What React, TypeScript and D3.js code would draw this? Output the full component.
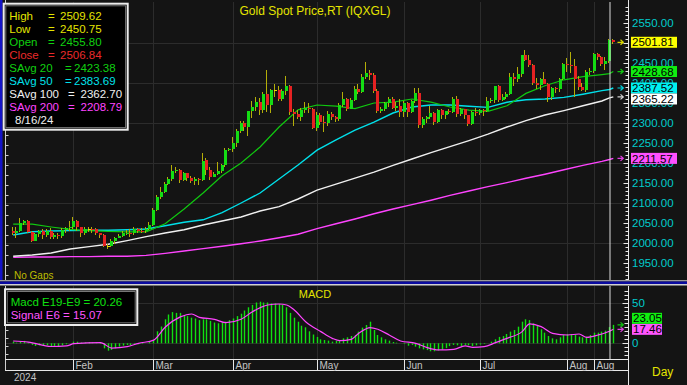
import * as d3 from 'd3';

// ---- values ----
const firstDay = '2024-01-10';
const lastDay = '2024-08-19';
const cursorDay = '2024-08-16';

const open = [
  2030, 2024, 2029, 2049, 2055, 2028, 2006, 2023, 2029, 2021,
  2029, 2014, 2020, 2018, 2032, 2037, 2039, 2054, 2039, 2025,
  2035, 2035, 2034, 2024, 2020, 1992, 1992, 2004, 2013, 2017,
  2025, 2026, 2024, 2035, 2031, 2030, 2034, 2044, 2083, 2114,
  2128, 2148, 2160, 2179, 2182, 2158, 2174, 2162, 2155, 2160,
  2157, 2207, 2183, 2166, 2172, 2179, 2194, 2233, 2235, 2251,
  2281, 2300, 2290, 2329, 2339, 2352, 2333, 2372, 2344, 2383,
  2383, 2361, 2379, 2392, 2327, 2322, 2316, 2332, 2337, 2335,
  2287, 2320, 2303, 2301, 2323, 2314, 2309, 2346, 2360, 2336,
  2358, 2386, 2377, 2415, 2425, 2421, 2379, 2329, 2334, 2350,
  2361, 2338, 2343, 2327, 2350, 2327, 2355, 2375, 2294, 2311,
  2316, 2324, 2303, 2333, 2319, 2329, 2328, 2360, 2322, 2334,
  2319, 2298, 2327, 2326, 2332, 2330, 2356, 2357, 2392, 2358,
  2364, 2372, 2415, 2411, 2422, 2469, 2458, 2445, 2400, 2396,
  2409, 2398, 2364, 2387, 2384, 2410, 2448, 2446, 2443, 2410,
  2390, 2383, 2427, 2431, 2472, 2465, 2447, 2455.8, 2506.84,
];
const high = [
  2040, 2040, 2063, 2058, 2057, 2031, 2026, 2032, 2034, 2036,
  2037, 2025, 2025, 2037, 2040, 2055, 2065, 2057, 2040, 2040,
  2039, 2041, 2037, 2025, 2022, 1998, 2010, 2016, 2022, 2031,
  2032, 2035, 2041, 2038, 2037, 2039, 2052, 2088, 2120, 2141,
  2152, 2165, 2195, 2189, 2185, 2178, 2176, 2168, 2165, 2163,
  2224, 2213, 2190, 2178, 2203, 2197, 2237, 2238, 2265, 2285,
  2305, 2305, 2330, 2354, 2365, 2363, 2378, 2432, 2386, 2397,
  2392, 2385, 2418, 2395, 2335, 2333, 2338, 2353, 2350, 2337,
  2327, 2326, 2318, 2330, 2328, 2318, 2350, 2378, 2363, 2362,
  2392, 2397, 2422, 2452, 2432, 2426, 2385, 2340, 2352, 2364,
  2364, 2352, 2360, 2354, 2353, 2358, 2388, 2387, 2316, 2318,
  2342, 2327, 2336, 2334, 2331, 2336, 2365, 2368, 2337, 2335,
  2321, 2330, 2338, 2336, 2335, 2365, 2363, 2393, 2394, 2372,
  2378, 2425, 2424, 2440, 2470, 2483, 2470, 2447, 2412, 2412,
  2428, 2400, 2390, 2391, 2412, 2451, 2462, 2477, 2460, 2418,
  2400, 2432, 2437, 2474, 2476, 2468, 2465, 2509.62, 2510,
];
const low = [
  2021, 2013, 2027, 2046, 2025, 2002, 2004, 2016, 2010, 2016,
  2011, 2009, 2010, 2013, 2026, 2030, 2035, 2029, 2014, 2020,
  2028, 2024, 2020, 2012, 1990, 1984, 1989, 1997, 2012, 2015,
  2020, 2016, 2020, 2025, 2026, 2024, 2032, 2042, 2080, 2110,
  2125, 2145, 2155, 2174, 2150, 2155, 2155, 2150, 2146, 2146,
  2155, 2170, 2158, 2164, 2169, 2176, 2191, 2230, 2228, 2240,
  2275, 2281, 2267, 2313, 2330, 2320, 2326, 2327, 2324, 2366,
  2355, 2356, 2370, 2320, 2292, 2310, 2305, 2325, 2325, 2285,
  2280, 2296, 2277, 2292, 2307, 2303, 2305, 2340, 2331, 2334,
  2355, 2372, 2376, 2410, 2407, 2374, 2326, 2326, 2331, 2340,
  2334, 2331, 2315, 2314, 2315, 2326, 2350, 2287, 2287, 2299,
  2311, 2295, 2300, 2310, 2311, 2322, 2326, 2316, 2318, 2310,
  2293, 2295, 2318, 2319, 2318, 2328, 2350, 2350, 2352, 2354,
  2360, 2370, 2393, 2402, 2416, 2455, 2440, 2394, 2385, 2382,
  2397, 2353, 2358, 2376, 2378, 2407, 2428, 2426, 2364, 2383,
  2380, 2378, 2420, 2425, 2458, 2442, 2433, 2450.75, 2498,
];
const close = [
  2024, 2029, 2049, 2055, 2028, 2006, 2023, 2029, 2021, 2029,
  2014, 2020, 2018, 2032, 2037, 2039, 2054, 2039, 2025, 2035,
  2035.5, 2034, 2024, 2020, 1992, 1992.5, 2004, 2013, 2017, 2025,
  2026, 2024, 2035, 2031, 2030, 2034, 2044, 2083, 2114, 2128,
  2148, 2160, 2179, 2182, 2158, 2174, 2162, 2155, 2160, 2157,
  2205, 2183, 2166, 2172, 2179, 2194, 2233, 2235, 2251, 2281,
  2300, 2290, 2329, 2339, 2352, 2333, 2372, 2344, 2383, 2383.5,
  2361, 2379, 2392, 2327, 2322, 2316, 2332, 2337, 2335, 2287,
  2320, 2303, 2301, 2323, 2314, 2309, 2346, 2360, 2336, 2358,
  2386, 2377, 2415, 2425, 2421, 2379, 2329, 2334, 2350, 2361,
  2338, 2343, 2327, 2350, 2327, 2355, 2375, 2294, 2311, 2316,
  2324, 2303, 2333, 2319, 2329, 2328, 2360, 2322, 2334, 2319,
  2298, 2327, 2326, 2332, 2330, 2356, 2357, 2392, 2358, 2364,
  2372, 2415, 2411, 2422, 2469, 2458, 2445, 2400, 2396, 2409,
  2398, 2364, 2387, 2384, 2410, 2448, 2446, 2443, 2410, 2390,
  2383, 2427, 2431, 2472, 2465, 2447, 2456, 2506.84, 2501.81,
];

// moving averages sampled along the trading-day index
const maDays = [
  0, 5, 10, 15, 20, 25, 30, 35, 40, 45, 50, 55, 60, 65, 70, 75, 80,
  85, 90, 95, 100, 105, 110, 115, 120, 125, 130, 135, 140, 145, 150, 155, 157, 158,
];
const sma20 = [
  2047, 2047, 2040, 2034, 2031, 2029, 2028, 2028, 2048, 2085, 2125, 2168, 2200, 2240, 2290, 2333, 2345,
  2342, 2336, 2350, 2352, 2360, 2352, 2340, 2332, 2329, 2343, 2374, 2393, 2408, 2416, 2421, 2423.38, 2428.68,
];
const sma50 = [
  2020, 2028, 2030, 2031, 2032, 2032, 2033, 2035, 2043, 2052, 2058, 2076, 2100, 2125, 2160, 2195, 2232,
  2258, 2282, 2302, 2325, 2340, 2345, 2345, 2342, 2339, 2352, 2358, 2360, 2364, 2372, 2381, 2383.69, 2387.52,
];
const sma100 = [
  1967, 1970, 1975, 1985, 1991, 1997, 2006, 2016, 2025, 2033, 2045, 2055, 2065, 2080, 2091, 2110, 2132,
  2147, 2162, 2177, 2194, 2210, 2226, 2241, 2256, 2272, 2290, 2306, 2320, 2331, 2343, 2355, 2362.7, 2365.22,
];
const sma200 = [
  1964, 1965, 1965, 1966, 1966, 1967, 1967, 1969, 1974, 1980, 1986, 1992, 1998, 2005, 2013, 2022, 2036,
  2048, 2060, 2073, 2085, 2096, 2107, 2119, 2130, 2141, 2151, 2162, 2172, 2183, 2194, 2204, 2208.79, 2211.57,
];

const macdHist = [
  2, 0.8, 2, 3, 1, -2, -3.3, -2.5, -3.3, -2.5,
  -4.2, -3.3, -4.2, -2.5, -1.2, 0, 2, 2, 1, 1.2,
  1.6, 1.2, 0.8, -0.8, -6.3, -9.2, -8.3, -6.3, -4.2, -2.9,
  -2, -2.5, -0.8, -1.2, -0.8, 0, 2, 4, 15, 21,
  30, 36, 39, 38, 38, 35, 34, 32, 31, 29,
  30, 30, 28, 26, 25, 26, 27, 29, 31, 34,
  37, 41, 45, 48, 51, 52, 51, 51, 50, 50,
  49, 48, 45, 38, 32, 27, 22, 20, 15, 11,
  8, 5, 4.1, 3.3, 2.1, 2.9, 4.1, 6.2, 7.5, 9.1,
  10.4, 14.6, 19.6, 22.9, 27, 16.6, 10.4, 7.5, 5, 3.3,
  1.6, 0.8, 0, -0.8, -3, -2, -4.2, -6.3, -7.5, -8.5,
  -10, -10, -9, -8, -6, -3.5, -2, -2.5, -3.3, -2,
  -2.5, -3.3, -2.5, -1.5, -0.8, 0, 2, 5, 8, 9,
  11.6, 14.6, 16.6, 20.8, 27, 30, 29, 25, 21.6, 17.5,
  13.3, 9.1, 6.2, 5, 7.5, 10.4, 11.6, 11.6, 10.4, 8.3,
  7.5, 8.3, 10.4, 13.3, 13.3, 14.6, 15.8, 20.26, 23.05,
];
const signalDays = [
  0, 4, 10, 14, 16, 23, 26, 30, 33, 37, 40, 44, 47, 49, 53, 56, 60, 63, 67, 70, 72, 74, 77,
  81, 84, 86, 89, 91, 94, 96, 99, 102, 106, 109, 112, 116, 119, 121, 124, 127, 130, 134, 136,
  139, 142, 146, 149, 151, 154, 157, 158,
];
const signalLine = [
  2.9, 1.5, -4, -3.3, -0.5, 0.8, -6, -4.2, 0, 4, 20, 33, 36.6, 32.5, 30, 25.8, 30, 39.5, 47.9, 49.1, 47.9, 41.6, 27,
  14.6, 6.2, 3.3, 5, 12.5, 19.6, 17.5, 10.4, 2.9, 0, -5.4, -8.3, -7.5, -3.3, -5, -4.2, 0.8, 6.2, 14.6, 24.2,
  20.8, 12.5, 10.4, 11.6, 7.5, 10.4, 15.07, 17.46,
];

const priceTicks = [1950, 2000, 2050, 2100, 2150, 2200, 2250, 2300, 2350, 2400, 2450, 2500, 2550];
const priceGrid = [2000, 2100, 2200, 2300, 2400, 2500];
const macdTicks = [0, 50];
const monthTickDays = [
  '2024-02-01', '2024-03-01', '2024-04-01', '2024-05-01',
  '2024-06-03', '2024-07-01', '2024-08-01', '2024-08-12',
];

// ---- styling ----
const FONT = '"Liberation Sans", Arial, sans-serif';
const BG = '#141414';
const GRID = '#2c2c2c';
const UP = '#14dc14';
const DOWN = '#e62222';
const WICK = '#b4ae08';
const AXIS_TXT = '#00cccc';
const C20 = '#10c810';
const C50 = '#00e0ea';
const C100 = '#f0f0f0';
const C200 = '#ff44ff';
const YEL = '#e4e400';

const X_AXIS = 628.5;
const BOX_H = 11;

export default function App() {
  const parse = d3.timeParse('%Y-%m-%d');
  const fmt = d3.timeFormat('%Y-%m-%d');
  const days = d3.timeDay
    .range(parse(firstDay)!, d3.timeDay.offset(parse(lastDay)!, 1))
    .filter((d) => d.getDay() % 6 !== 0);
  const keys = days.map((d) => fmt(d));
  const n = days.length;
  const cur = keys.indexOf(cursorDay);
  const last = n - 1;

  const x = d3.scaleLinear().domain([0, n - 1]).range([13.2, 613.3]);
  const y = d3.scaleLinear().domain([1950, 2550]).range([263, 23]);
  const ym = d3.scaleLinear().domain([0, 50]).range([343.3, 303.3]);
  const px = (i: number) => Math.floor(x(i)) + 0.5;

  const maLine = d3
    .line<number>()
    .x((_, i) => x(maDays[i]))
    .y((v) => y(v));
  const sigLine = d3
    .line<number>()
    .x((_, i) => x(signalDays[i]))
    .y((v) => ym(v))
    .curve(d3.curveMonotoneX);

  const ticks = monthTickDays.map((k) => ({ i: keys.indexOf(k), label: d3.timeFormat('%b')(parse(k)!) }));

  const maAt = (arr: number[], i: number) => arr[maDays.indexOf(i)];
  const legend = [
    { label: 'High', v: high[cur], color: YEL },
    { label: 'Low', v: low[cur], color: YEL },
    { label: 'Open', v: open[cur], color: '#10d010' },
    { label: 'Close', v: close[cur], color: '#ea2a2a' },
    { label: 'SAvg 20', v: maAt(sma20, cur), color: '#10d010' },
    { label: 'SAvg 50', v: maAt(sma50, cur), color: C50 },
    { label: 'SAvg 100', v: maAt(sma100, cur), color: C100 },
    { label: 'SAvg 200', v: maAt(sma200, cur), color: C200 },
  ];

  // last value markers on the price axis, pushed apart downward
  const markers = [
    { v: close[last], color: '#ffff00', arrow: '#d8d800' },
    { v: sma20[sma20.length - 1], color: '#10ee10', arrow: '#10c010' },
    { v: sma50[sma50.length - 1], color: '#00f0f0', arrow: '#00d0d8' },
    { v: sma100[sma100.length - 1], color: '#ffffff', arrow: '#d0d0d0' },
    { v: sma200[sma200.length - 1], color: '#ff50ff', arrow: '#e040e0' },
  ].sort((a, b) => b.v - a.v);
  let prevBottom = -Infinity;
  const placed = markers.map((m) => {
    const top = Math.max(y(m.v) - BOX_H / 2, prevBottom);
    prevBottom = top + BOX_H;
    return { ...m, top };
  });
  // axis labels that sit completely under a marker box are not drawn
  const hidden = (p: number) =>
    placed.some((m) => y(p) - 4 >= m.top && y(p) + 4 <= m.top + BOX_H);

  // macd markers, pushed apart upward
  const sigLast = signalLine[signalLine.length - 1];
  const mMarkers = [
    { v: sigLast, color: '#ff55ff', arrow: '#e040e0' },
    { v: macdHist[last], color: '#10f010', arrow: '#10c010' },
  ].sort((a, b) => ym(b.v) - ym(a.v));
  let prevTop = Infinity;
  const mPlaced = mMarkers.map((m) => {
    const top = Math.min(ym(m.v) - BOX_H / 2, prevTop - BOX_H);
    prevTop = top;
    return { ...m, top };
  });

  const arrow = (yy: number, color: string, key: string) => (
    <path
      key={key}
      d={`M617.5,${yy} h5.5 M620.5,${yy - 2.5} l2.8,2.5 l-2.8,2.5`}
      stroke={color}
      strokeWidth={1.2}
      fill="none"
    />
  );

  const priceMinor = d3.range(1910, 2600, 10);
  const macdMinor = d3.range(-15, 70, 5);

  return (
    <svg
      width={687}
      height={385}
      style={{ position: 'absolute', left: 0, top: 0, fontFamily: FONT }}
    >
      <rect x={0} y={0} width={687} height={385} fill={BG} />

      {/* ---------- price panel ---------- */}
      {priceGrid.map((p) => (
        <line key={p} x1={6} x2={X_AXIS} y1={Math.round(y(p)) + 0.5} y2={Math.round(y(p)) + 0.5} stroke={GRID} />
      ))}
      {ticks.map((t) => (
        <line key={t.i} x1={px(t.i)} x2={px(t.i)} y1={2} y2={280} stroke={GRID} />
      ))}

      {/* moving averages */}
      <path d={maLine(sma200)!} stroke={C200} strokeWidth={1.4} fill="none" />
      <path d={maLine(sma100)!} stroke={C100} strokeWidth={1.4} fill="none" />
      <path d={maLine(sma50)!} stroke={C50} strokeWidth={1.4} fill="none" />
      <path d={maLine(sma20)!} stroke={C20} strokeWidth={1.2} fill="none" />

      {/* candles */}
      <g shapeRendering="crispEdges">
        {open.map((o, i) => {
          const c = close[i];
          const cx = px(i);
          const top = y(Math.max(o, c));
          const bot = y(Math.min(o, c));
          const col = c - o > 0.6 ? UP : o - c > 0.6 ? DOWN : YEL;
          return (
            <g key={i}>
              <line x1={cx - 1} x2={cx - 1} y1={y(high[i])} y2={y(low[i])} stroke={WICK} />
              <rect x={cx - 1.5} y={top} width={3} height={Math.max(1, bot - top)} fill={col} />
            </g>
          );
        })}
      </g>

      {/* cursor */}
      <line x1={px(cur) + 0.5} x2={px(cur) + 0.5} y1={2} y2={280} stroke="#dcdcdc" />

      {/* left edge */}
      <rect x={0} y={0} width={2.5} height={280} fill="#1414c8" />
      <line x1={5.5} x2={5.5} y1={0} y2={280} stroke="#cfcfcf" />
      {d3.range(5, 280, 10).map((t) => (
        <line key={t} x1={5.5} x2={8.5} y1={t + 0.5} y2={t + 0.5} stroke="#cfcfcf" />
      ))}

      {/* right axis */}
      <line x1={X_AXIS} x2={X_AXIS} y1={0} y2={280} stroke="#e8e8e8" />
      {priceMinor.map((p) => (
        <line
          key={p}
          x1={p % 50 === 0 ? 623.5 : 625.5}
          x2={X_AXIS}
          y1={Math.round(y(p)) + 0.5}
          y2={Math.round(y(p)) + 0.5}
          stroke="#e8e8e8"
        />
      ))}
      {priceTicks
        .filter((p) => !hidden(p))
        .map((p) => (
          <text key={p} x={632} y={y(p)} dy="0.36em" fontSize={11.5} fill={AXIS_TXT}>
            {p.toFixed(2)}
          </text>
        ))}
      {placed.map((m, k) => (
        <g key={k}>
          {arrow(y(m.v), m.arrow, 'a' + k)}
          <rect x={631} y={m.top} width={46} height={BOX_H} fill={m.color} />
          <text x={632} y={m.top + BOX_H / 2} dy="0.36em" fontSize={11.5} fill="#000">
            {m.v.toFixed(2)}
          </text>
        </g>
      ))}

      {/* title + notes */}
      <text x={315} y={15} textAnchor="middle" fontSize={12} fill={YEL}>
        Gold Spot Price,RT (IQXGL)
      </text>
      <text x={14} y={279} fontSize={10} fill="#bdbd00">
        No Gaps
      </text>

      {/* data window */}
      <rect x={3.7} y={3.7} width={124} height={126} fill="#000" stroke="#ececec" strokeWidth={2} />
      <rect x={5.8} y={5.8} width={119.8} height={121.8} fill="none" stroke="#767676" />
      {legend.map((r, k) => {
        const wide = r.label.length > 7;
        const savg = r.label.startsWith('SAvg');
        const eqX = savg ? (wide ? 68 : 65) : 48;
        const valX = savg ? (wide ? 80.5 : 74) : 60;
        return (
          <text key={r.label} y={20 + k * 12.95} fontSize={11.5} fill={r.color}>
            <tspan x={9.3}>{r.label}</tspan>
            <tspan x={eqX}>=</tspan>
            <tspan x={valX}>{r.v.toFixed(2)}</tspan>
          </text>
        );
      })}
      <text x={15} y={123.6} fontSize={11.5} fill="#f0f0f0">
        {d3.timeFormat('%-m/%-d/%y')(days[cur])}
      </text>

      {/* ---------- panel separator ---------- */}
      <rect x={0} y={280} width={687} height={1.5} fill="#9a9a9a" />
      <rect x={0} y={281.5} width={687} height={2.5} fill="#0a0aa0" />
      <rect x={0} y={284} width={687} height={1.5} fill="#d0d0d0" />

      {/* ---------- MACD panel ---------- */}
      {macdTicks.map((m) => (
        <line key={m} x1={6} x2={X_AXIS} y1={Math.round(ym(m)) + 0.5} y2={Math.round(ym(m)) + 0.5} stroke={GRID} />
      ))}
      {ticks.map((t) => (
        <line key={t.i} x1={px(t.i)} x2={px(t.i)} y1={286} y2={359} stroke={GRID} />
      ))}
      {macdHist.map((v, i) => (
        <line key={i} x1={px(i)} x2={px(i)} y1={ym(0)} y2={ym(v)} stroke="#10e010" strokeWidth={1.4} />
      ))}
      <path d={sigLine(signalLine)!} stroke="#ff44ff" strokeWidth={1.2} fill="none" />
      <line x1={px(cur) + 0.5} x2={px(cur) + 0.5} y1={286} y2={359} stroke="#dcdcdc" />

      {/* MACD left axis */}
      <line x1={5.5} x2={5.5} y1={286} y2={370} stroke="#cfcfcf" />
      {d3.range(290, 359, 8).map((t) => (
        <line key={t} x1={5.5} x2={8.5} y1={t + 0.5} y2={t + 0.5} stroke="#cfcfcf" />
      ))}

      {/* MACD right axis */}
      <line x1={X_AXIS} x2={X_AXIS} y1={286} y2={385} stroke="#e8e8e8" />
      {macdMinor.map((m) => (
        <line
          key={m}
          x1={m % 50 === 0 ? 622.5 : 624.5}
          x2={X_AXIS}
          y1={Math.round(ym(m)) + 0.5}
          y2={Math.round(ym(m)) + 0.5}
          stroke="#e8e8e8"
        />
      ))}
      {macdTicks.map((m) => (
        <text key={m} x={632} y={ym(m)} dy="0.36em" fontSize={11.5} fill={AXIS_TXT}>
          {m}
        </text>
      ))}
      {mPlaced.map((m, k) => (
        <g key={k}>
          {arrow(ym(m.v), m.arrow, 'm' + k)}
          <rect x={632} y={m.top} width={30} height={BOX_H} fill={m.color} />
          <text x={633} y={m.top + BOX_H / 2} dy="0.36em" fontSize={11.5} fill="#000">
            {m.v.toFixed(2)}
          </text>
        </g>
      ))}

      <text x={315} y={298} textAnchor="middle" fontSize={11} fill={YEL}>
        MACD
      </text>

      <rect x={5} y={289.3} width={132.3} height={35.7} fill="#000" stroke="#ececec" strokeWidth={2} />
      <rect x={7.2} y={291.5} width={128} height={31.3} fill="none" stroke="#767676" />
      <text x={10.7} y={306} fontSize={11.5} fill="#10e010">
        {`Macd E19-E9 = ${macdHist[cur].toFixed(2)}`}
      </text>
      <text x={10.7} y={318.5} fontSize={11.5} fill="#ff55ff">
        {`Signal E6 = ${signalLine[signalDays.indexOf(cur)].toFixed(2)}`}
      </text>

      {/* date axis */}
      <line x1={5} x2={X_AXIS} y1={359.5} y2={359.5} stroke="#e8e8e8" />
      <line x1={5} x2={X_AXIS} y1={370.5} y2={370.5} stroke="#e8e8e8" />
      {ticks.map((t) => (
        <g key={t.i}>
          <line x1={px(t.i)} x2={px(t.i)} y1={359.5} y2={370.5} stroke="#e8e8e8" />
          <text x={px(t.i) + 2} y={369} fontSize={10} fill="#c4c4c4">
            {t.label}
          </text>
        </g>
      ))}
      <text x={14} y={381} fontSize={10} fill="#c4c4c4">
        {d3.timeFormat('%Y')(days[0])}
      </text>
      <text x={652} y={376} fontSize={12} fill={YEL}>
        Day
      </text>
    </svg>
  );
}
